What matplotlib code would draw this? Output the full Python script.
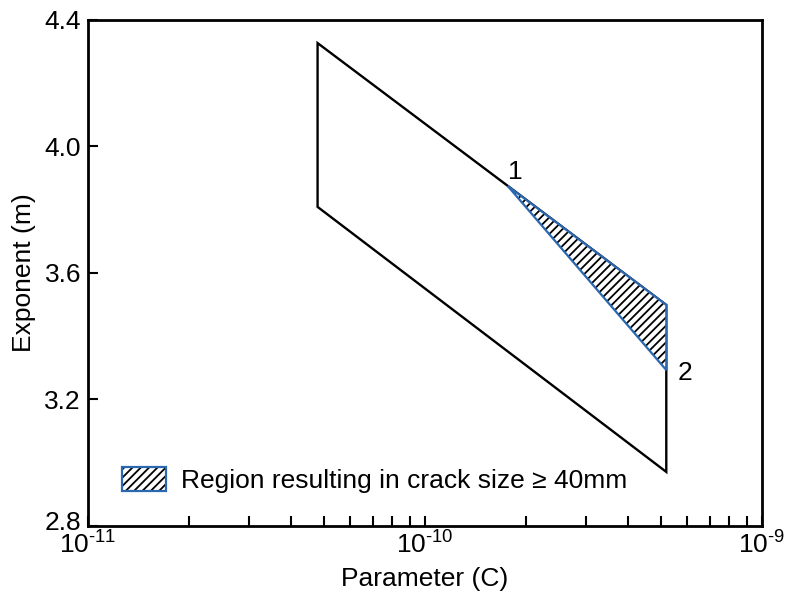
import numpy as np
import matplotlib
matplotlib.use('Agg')
import matplotlib.pyplot as plt
from matplotlib.patches import Polygon, Patch
from matplotlib.transforms import ScaledTranslation

plt.rcParams['font.family'] = ['Liberation Sans', 'DejaVu Sans']
plt.rcParams['mathtext.fontset'] = 'custom'
plt.rcParams['mathtext.rm'] = 'Liberation Sans'
plt.rcParams['mathtext.default'] = 'regular'
plt.rcParams['hatch.linewidth'] = 1.3

# parallelogram of (C, m) combinations
box_c = [4.8e-11, 5.2e-10, 5.2e-10, 4.8e-11]
box_m = [4.327, 3.499, 2.971, 3.809]

# region resulting in crack size >= 40mm (point 1 -> corner -> point 2)
reg_c = [1.76e-10, 5.2e-10, 5.2e-10]
reg_m = [3.875, 3.499, 3.293]

pt_labels = ['1', '2']
pt_c = [1.85e-10, 5.9e-10]
pt_m = [3.92, 3.285]

xticks = [1e-11, 1e-10, 1e-9]
xticklabels = ['10$^{\u201011}$', '10$^{\u201010}$', '10$^{\u20109}$']
yticks = [2.8, 3.2, 3.6, 4.0, 4.4]

blue = '#2a68b0'
fs = 19

fig = plt.figure(figsize=(7.85, 5.93), dpi=100)
ax = fig.add_axes([0.1121, 0.1130, 0.8586, 0.8533])

ax.set_xscale('log')
ax.set_xlim(1e-11, 1e-9)
ax.set_ylim(2.8, 4.4)

ax.add_patch(Polygon(np.column_stack((box_c, box_m)), closed=True,
                     fill=False, edgecolor='black', linewidth=1.7))

reg_xy = np.column_stack((reg_c, reg_m))
ax.add_patch(Polygon(reg_xy, closed=True, facecolor='white', edgecolor='black',
                     linewidth=0, hatch='////'))
ax.add_patch(Polygon(reg_xy, closed=True, fill=False, edgecolor=blue,
                     linewidth=1.6))

for lab, c, m in zip(pt_labels, pt_c, pt_m):
    ax.text(c, m, lab, fontsize=fs, ha='center', va='center')

ax.set_xticks(xticks)
ax.set_xticklabels(xticklabels)
ax.set_yticks(yticks)
ax.set_yticklabels(['%.1f' % v for v in yticks])

ax.tick_params(axis='both', which='both', direction='in', top=False, right=False,
               labelsize=fs, width=1.5, length=7)
ax.tick_params(axis='x', which='both', pad=4)
ax.tick_params(axis='y', pad=5)
for s in ax.spines.values():
    s.set_linewidth(2)

# nudge the bottom y label up a little so it clears the 10^-11 label
lbl = ax.get_yticklabels()[0]
lbl.set_transform(lbl.get_transform() + ScaledTranslation(0, 4 / 72, fig.dpi_scale_trans))

ax.set_xlabel('Parameter (C)', fontsize=fs, labelpad=6)
ax.set_ylabel('Exponent (m)', fontsize=fs, labelpad=6)

h1 = Patch(facecolor='white', edgecolor='black', linewidth=0, hatch='////')
h2 = Patch(fill=False, edgecolor=blue, linewidth=1.6)
ax.legend(handles=[(h1, h2)], labels=['Region resulting in crack size \u2265 40mm'],
          loc='center left', bbox_to_anchor=(0.05, 0.091), frameon=False,
          fontsize=fs, borderpad=0, borderaxespad=0, handlelength=1.66,
          handleheight=1.06, handletextpad=0.6)

fig.savefig('out.png', dpi=100)
